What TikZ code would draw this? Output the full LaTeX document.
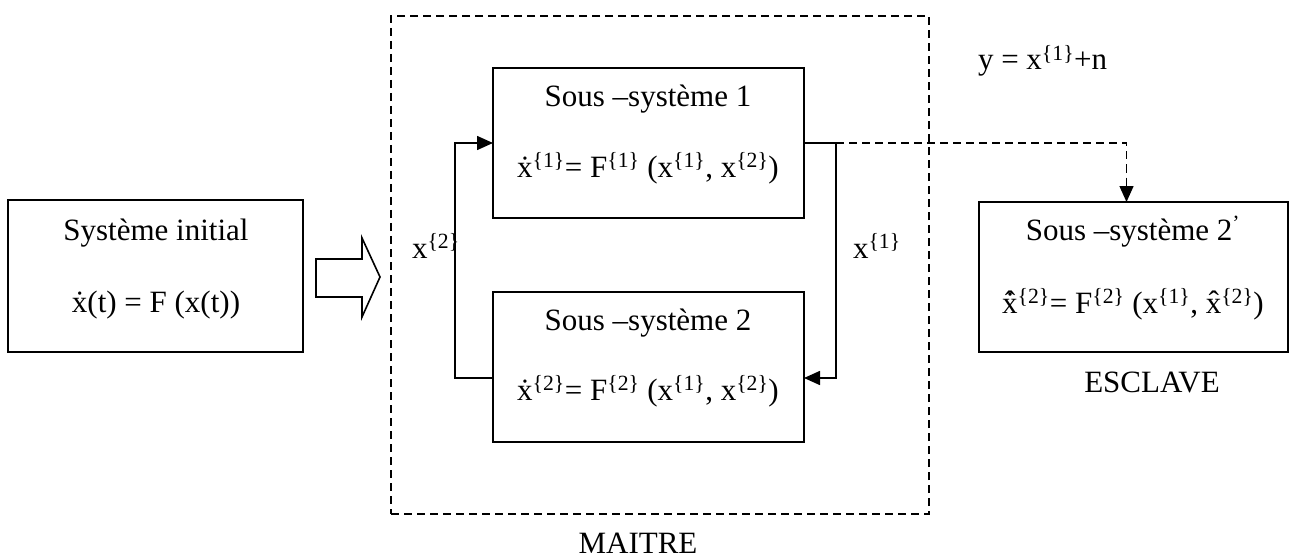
\documentclass[tikz,border=0pt]{standalone}
\usepackage{fontspec}
\setmainfont{Liberation Serif}
\usetikzlibrary{arrows.meta,calc}
\newcommand\sx[1]{\textsuperscript{\{#1\}}}
\begin{document}
\begin{tikzpicture}[x=1pt,y=-1pt,
  every node/.style={font=\fontsize{31}{37}\selectfont, inner sep=0pt, outer sep=0pt},
  box/.style 2 args={draw, line width=1.6pt, anchor=north west, minimum width=#1pt, minimum height=#2pt},
  dbox/.style 2 args={draw, line width=1.4pt, dash pattern=on 8pt off 5pt, anchor=north west, minimum width=#1pt, minimum height=#2pt},
  txt/.style={anchor=base},
  conn/.style={line width=1.6pt},
  arr/.style={conn, -{Triangle[length=16pt,width=14pt]}},
  darr/.style={line width=1.4pt, dash pattern=on 8pt off 5pt, -{Triangle[length=16pt,width=14pt]}}]
\useasboundingbox (0,0) rectangle (1290,559);
% boxes
\node[box={295}{152}] (init) at (8,200) {};
\node[dbox={538}{498}] (maitre) at (391,16) {};
\node[box={311}{150}] (s1) at (493,68) {};
\node[box={311}{150}] (s2) at (493,292) {};
\node[box={309}{150}] (esc) at (979,202) {};
% texts
\node[txt] (t0a) at (156,240) {Système initial};
\node[txt] (t0b) at (156,312) {\.{x}(t) = F (x(t))};
\node[txt] (t1a) at (648,107) {Sous –système 1};
\node[txt] (t1b) at (648,177) {\.{x}\sx{1}= F\sx{1} (x\sx{1}, x\sx{2})};
\node[txt] (t2a) at (648,330) {Sous –système 2};
\node[txt] (t2b) at (648,400) {\.{x}\sx{2}= F\sx{2} (x\sx{1}, x\sx{2})};
\node[txt] (t3a) at (1133,240) {Sous –système 2\textsuperscript{’}};
\node[txt] (t3b) at (1133,313) {\.{\^{x}}\sx{2}= F\sx{2} (x\sx{1}, \^{x}\sx{2})};
\node[anchor=base west] (lx2) at (412,258) {x\sx{2}};
\node[anchor=base west] (lx1) at (853,258) {x\sx{1}};
\node[anchor=base west] (ly) at (978,70) {y = x\sx{1}+n};
\node[txt] (lesc) at (1152,392) {ESCLAVE};
\node[txt] (lmai) at (638,553) {MAITRE};
% hollow arrow
\draw[line width=1.6pt, line join=miter] (316,259) -- (362,259) -- (362,238) -- (380,277) -- (362,317) -- (362,297) -- (316,297) -- cycle;
% connectors
\draw[arr] ([yshift=-11pt]s2.west) -- ++(-38,0) |- (s1.west);
\path (s1.east) ++(32,0) coordinate (j);
\draw[arr] (s1.east) -- (j) |- ([yshift=-11pt]s2.east);
\draw[darr] (j) -| ([xshift=-7pt]esc.north);
\end{tikzpicture}
\end{document}
